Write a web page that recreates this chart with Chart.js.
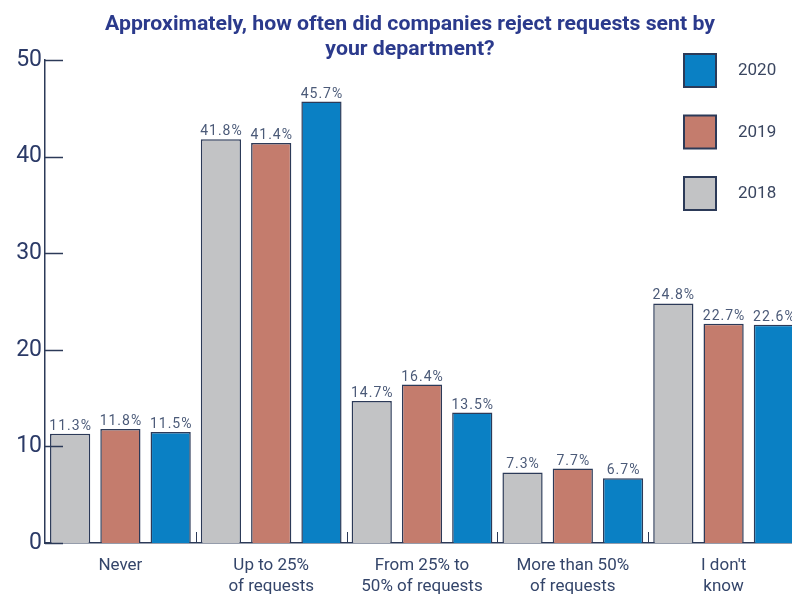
<!DOCTYPE html>
<html>
<head>
<meta charset="utf-8">
<script src="https://cdn.jsdelivr.net/npm/chart.js@4/dist/chart.umd.min.js"></script>
<style>
  html, body { margin: 0; padding: 0; background: #fff; overflow: hidden; }
  #wrap { width: 800px; height: 595px; }
</style>
</head>
<body>
<div id="wrap"><canvas id="chart" width="800" height="595"></canvas></div>
<script>
// answer groups shown along the x axis
const categories = [
  ['Never'],
  ['Up to 25%', 'of requests'],
  ['From 25% to', '50% of requests'],
  ['More than 50%', 'of requests'],
  ["I don't", 'know']
];
const years = ['2018', '2019', '2020'];
const values2018 = [11.3, 41.8, 14.7, 7.3, 24.8];
const values2019 = [11.8, 41.4, 16.4, 7.7, 22.7];
const values2020 = [11.5, 45.7, 13.5, 6.7, 22.6];
const yTicks = [0, 10, 20, 30, 40, 50];

const titleLines = ['Approximately, how often did companies reject requests sent by', 'your department?'];

const NAVY = '#2c3a58';
const FONT = 'Roboto, "Noto Sans", sans-serif';

// title, drawn a bit narrow like a condensed face
const titlePlugin = {
  id: 'titleText',
  afterDraw(chart) {
    const ctx = chart.ctx;
    ctx.save();
    ctx.font = 'bold 21px ' + FONT;
    ctx.fillStyle = '#2b3a8c';
    ctx.textAlign = 'center';
    ctx.textBaseline = 'alphabetic';
    const squeeze = 610 / ctx.measureText(titleLines[0]).width;
    [30, 55].forEach((y, i) => {
      ctx.save();
      ctx.translate(410, y);
      ctx.scale(squeeze, 1);
      ctx.fillText(titleLines[i], 0, 0);
      ctx.restore();
    });
    ctx.restore();
  }
};

// inward tick marks on both axes
const tickPlugin = {
  id: 'innerTicks',
  afterDraw(chart) {
    const ctx = chart.ctx;
    const x = chart.scales.x, y = chart.scales.y;
    ctx.save();
    ctx.strokeStyle = NAVY;
    ctx.lineWidth = 1.5;
    yTicks.forEach(v => {
      const py = Math.round(y.getPixelForValue(v)) + 0.5;
      ctx.beginPath();
      ctx.moveTo(x.left, py);
      ctx.lineTo(x.left + 18, py);
      ctx.stroke();
    });
    ctx.lineWidth = 1;
    for (let i = 0; i < categories.length - 1; i++) {
      const px = Math.round((x.getPixelForTick(i) + x.getPixelForTick(i + 1)) / 2) + 0.5;
      ctx.beginPath();
      ctx.moveTo(px, y.bottom);
      ctx.lineTo(px, y.bottom - 11);
      ctx.stroke();
    }
    ctx.restore();
  }
};

// value labels above each bar
const valuePlugin = {
  id: 'valueLabels',
  afterDatasetsDraw(chart) {
    const ctx = chart.ctx;
    ctx.save();
    ctx.font = '14px ' + FONT;
    ctx.letterSpacing = '1px';
    ctx.fillStyle = '#4b5a78';
    ctx.textAlign = 'center';
    ctx.textBaseline = 'alphabetic';
    chart.data.datasets.forEach((ds, di) => {
      chart.getDatasetMeta(di).data.forEach((bar, i) => {
        ctx.fillText(ds.data[i].toFixed(1) + '%', bar.x + 0.5, bar.y - 4);
      });
    });
    ctx.restore();
  }
};

// legend boxes at top right, newest year first
const legendPlugin = {
  id: 'sideLegend',
  afterDraw(chart) {
    const ctx = chart.ctx;
    const sets = chart.data.datasets.slice().reverse();
    ctx.save();
    ctx.font = '17px ' + FONT;
    ctx.textAlign = 'left';
    ctx.textBaseline = 'middle';
    sets.forEach((ds, i) => {
      const top = 54 + i * 61.5;
      ctx.fillStyle = ds.backgroundColor;
      ctx.fillRect(684, top, 32, 33);
      ctx.strokeStyle = NAVY;
      ctx.lineWidth = 2;
      ctx.strokeRect(684, top, 32, 33);
      ctx.fillStyle = '#3a4660';
      ctx.fillText(ds.label, 738, top + 17);
    });
    ctx.restore();
  }
};

const barStyle = { borderColor: NAVY, borderWidth: 1.5, borderSkipped: 'bottom' };

new Chart(document.getElementById('chart'), {
  type: 'bar',
  data: {
    labels: categories,
    datasets: [
      { label: years[0], data: values2018, backgroundColor: '#c2c3c5', ...barStyle },
      { label: years[1], data: values2019, backgroundColor: '#c47c6d', ...barStyle },
      { label: years[2], data: values2020, backgroundColor: '#0a80c4', ...barStyle }
    ]
  },
  options: {
    responsive: false,
    animation: false,
    layout: { padding: { top: 60, right: 1, left: 0, bottom: 0 } },
    datasets: { bar: { categoryPercentage: 1.0, barPercentage: 0.8 } },
    plugins: { legend: { display: false }, tooltip: { enabled: false } },
    scales: {
      x: {
        grid: { display: false, drawTicks: false },
        border: { display: true, color: NAVY, width: 1.5 },
        ticks: { color: '#34456a', font: { family: FONT, size: 17, lineHeight: 1.25 }, padding: 12, maxRotation: 0, autoSkip: false },
        afterFit(scale) { scale.height = 52; }
      },
      y: {
        min: 0,
        max: 50,
        grid: { display: false, drawTicks: false },
        border: { display: true, color: NAVY, width: 1.5 },
        ticks: { stepSize: 10, color: '#2b3a67', font: { family: FONT, size: 23 }, padding: 3 },
        afterFit(scale) { scale.width = 45; }
      }
    }
  },
  plugins: [titlePlugin, tickPlugin, valuePlugin, legendPlugin]
});
</script>
</body>
</html>
